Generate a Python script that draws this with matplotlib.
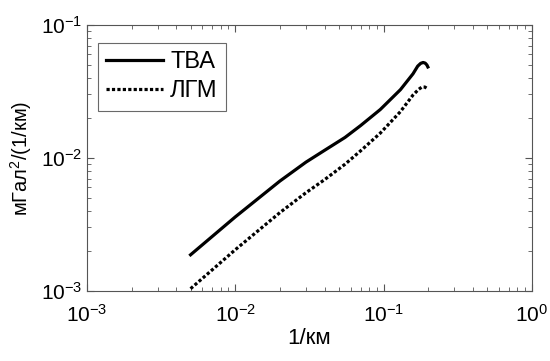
import matplotlib
matplotlib.use("Agg")
import matplotlib.pyplot as plt

# Spectra
tva_k = [0.005, 0.01, 0.02, 0.03, 0.04, 0.055, 0.07, 0.095, 0.13,
         0.158, 0.170, 0.178, 0.185, 0.191, 0.196, 0.199]
tva_p = [0.00187, 0.00360, 0.00670, 0.00930, 0.0114, 0.01426, 0.0175, 0.0231, 0.0326,
         0.0429, 0.0490, 0.0514, 0.0522, 0.0516, 0.0500, 0.0483]

lgm_k = [0.005, 0.01, 0.02, 0.03, 0.04, 0.055, 0.07, 0.095, 0.13,
         0.158, 0.172, 0.182, 0.190, 0.196]
lgm_p = [0.00104, 0.00204, 0.00388, 0.00548, 0.00686, 0.00897, 0.0113, 0.01535, 0.0223,
         0.0297, 0.0327, 0.0342, 0.0341, 0.0334]

fam = "Liberation Sans"
plt.rcParams["font.family"] = [fam, "DejaVu Sans"]
plt.rcParams["mathtext.fontset"] = "custom"
plt.rcParams["mathtext.rm"] = fam
plt.rcParams["mathtext.it"] = fam
plt.rcParams["mathtext.bf"] = fam

fig = plt.figure(figsize=(5.5, 3.61), dpi=100)
ax = fig.add_axes([0.158, 0.194, 0.809, 0.737])

ax.loglog(tva_k, tva_p, color="black", lw=2.3, solid_joinstyle="round", label="ТВА")
ax.loglog(lgm_k, lgm_p, color="black", lw=2.3, ls=(0, (1.0, 0.7)), label="ЛГМ")

ax.set_xlim(1e-3, 1e0)
ax.set_ylim(1e-3, 1e-1)
ax.tick_params(which="both", direction="in", top=True, right=True, labelsize=15, color="#555555")
ax.tick_params(axis="x", which="major", pad=9)
ax.tick_params(axis="y", which="major", pad=3)
ax.tick_params(which="major", length=5)
ax.tick_params(which="minor", length=3)
for s in ax.spines.values():
    s.set_color("#555555")

ax.set_xlabel("1/км", fontsize=16, labelpad=2)
ax.set_ylabel("мГал$^2$/(1/км)", fontsize=14.5)
ax.yaxis.set_label_coords(-0.118, 0.5)

leg = ax.legend(loc="upper left", fontsize=17, frameon=True, fancybox=False,
                edgecolor="#444444", handlelength=2.4, handletextpad=0.3,
                borderpad=0.35, labelspacing=0.3, borderaxespad=0,
                bbox_to_anchor=(0.025, 0.932))
leg.get_frame().set_linewidth(0.8)

fig.savefig("out.png", dpi=100)
